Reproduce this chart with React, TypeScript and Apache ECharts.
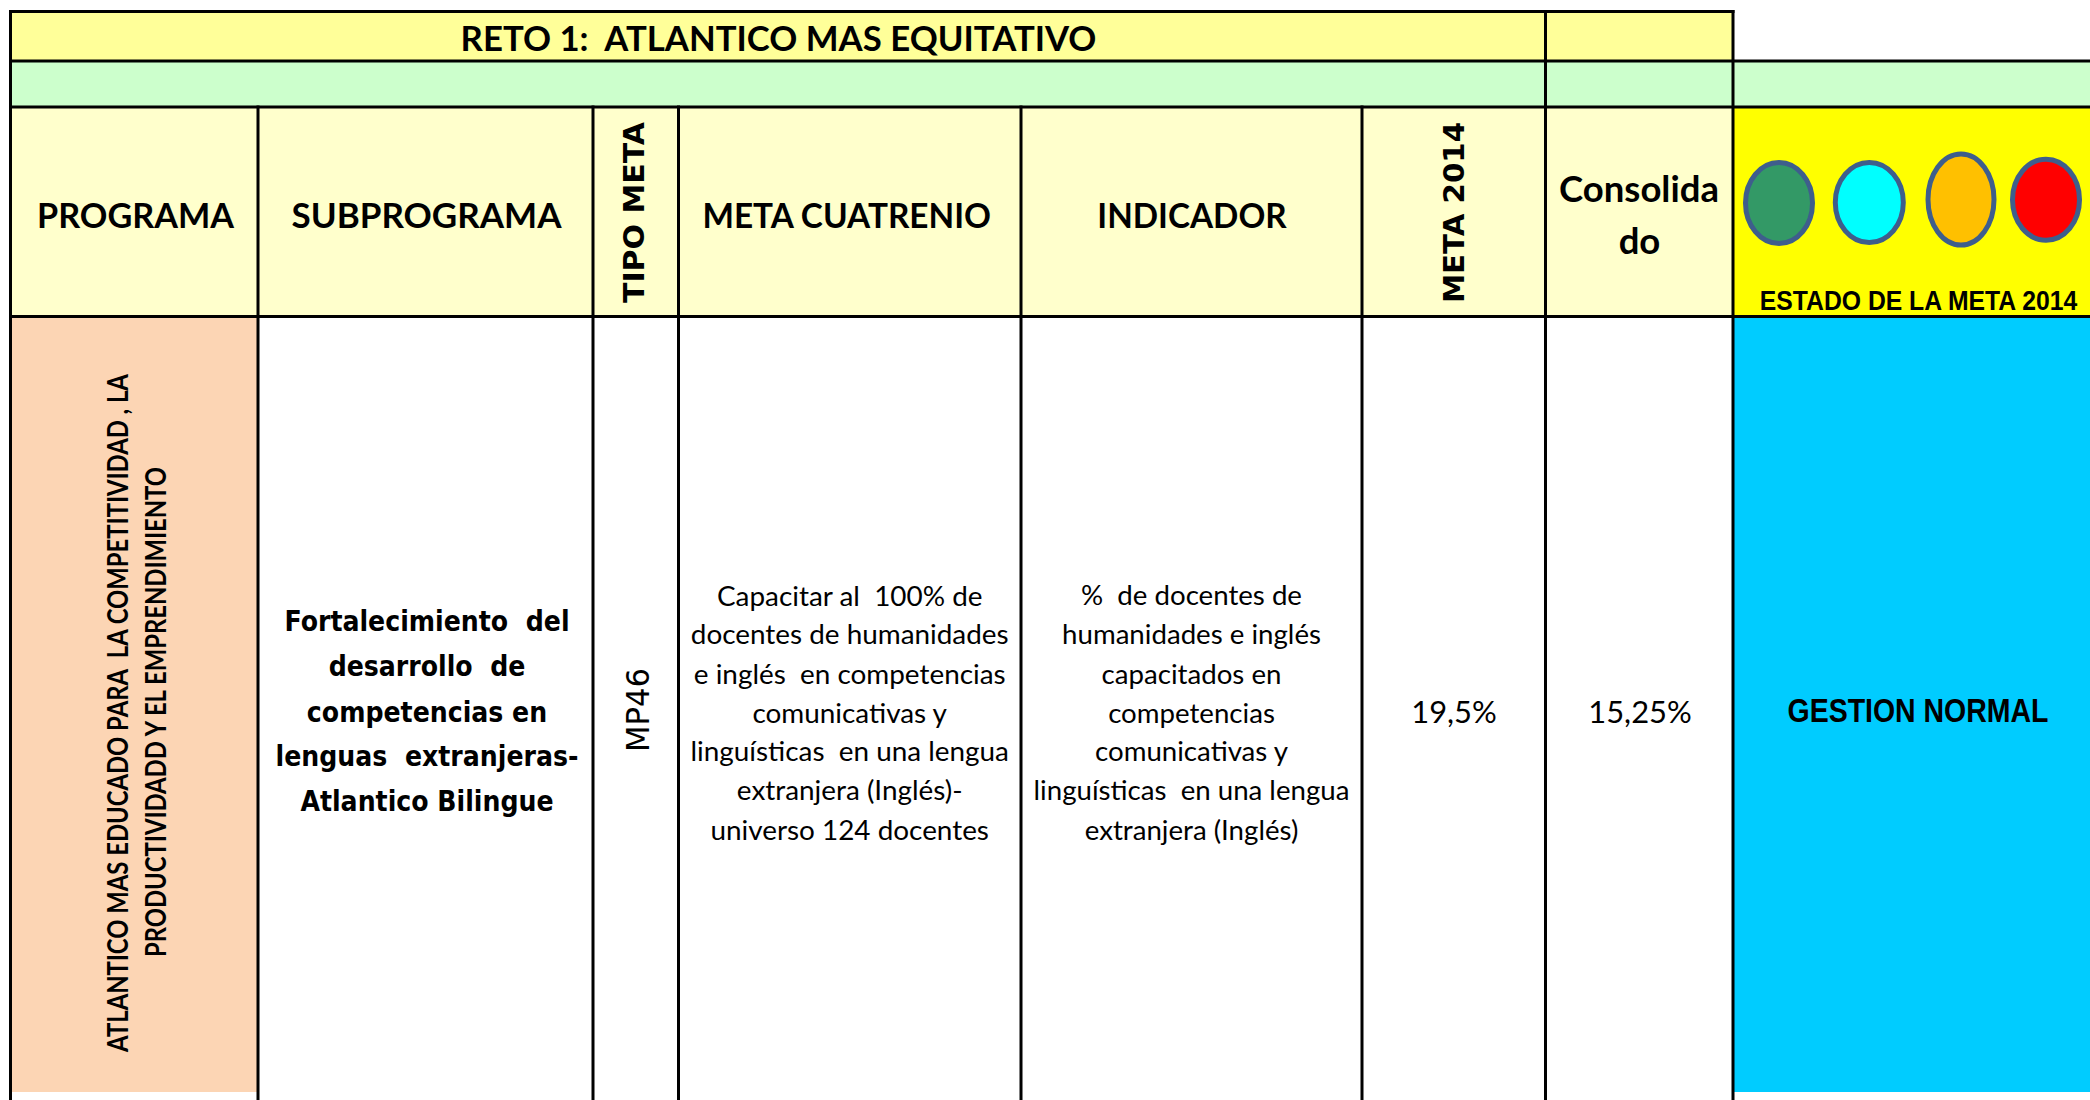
import React, { useEffect, useRef } from "react";
import * as echarts from "echarts";

// ---------------- data ----------------
const title = "RETO 1:  ATLANTICO MAS EQUITATIVO";
const headerPrograma = "PROGRAMA";
const headerSubprograma = "SUBPROGRAMA";
const headerTipoMeta = "TIPO META";
const headerMetaCuatrenio = "META CUATRENIO";
const headerIndicador = "INDICADOR";
const headerMeta2014 = "META 2014";
const headerConsolidado = ["Consolida", "do"];
const estadoLabel = "ESTADO DE LA META 2014";
const estadoColors = ["#339966", "#00FFFF", "#FFC000", "#FF0000"];

const programaLines = [
  "ATLANTICO MAS EDUCADO PARA  LA COMPETITIVIDAD , LA",
  "PRODUCTIVIDADD Y EL EMPRENDIMIENTO",
];
const subprogramaLines = [
  "Fortalecimiento  del",
  "desarrollo  de",
  "competencias en",
  "lenguas  extranjeras-",
  "Atlantico Bilingue",
];
const tipoMeta = "MP46";
const metaCuatrenioLines = [
  "Capacitar al  100% de",
  "docentes de humanidades",
  "e inglés  en competencias",
  "comunicativas y",
  "linguísticas  en una lengua",
  "extranjera (Inglés)-",
  "universo 124 docentes",
];
const indicadorLines = [
  "%  de docentes de",
  "humanidades e inglés",
  "capacitados en",
  "competencias",
  "comunicativas y",
  "linguísticas  en una lengua",
  "extranjera (Inglés)",
];
const meta2014 = "19,5%";
const consolidado = "15,25%";
const estadoMeta = "GESTION NORMAL";

// ---------------- layout ----------------
const W = 2090;
const H = 1100;
const COL = [10.5, 258, 593, 678.5, 1021, 1362, 1545.5, 1733, 2090];
const ROW = [11.5, 61, 107, 316.5, 1092, 1100];

const SANS = "Lato, 'Open Sans', sans-serif";
const VERD = "'DejaVu Sans', Verdana, sans-serif";
const ARIAL = "'Liberation Sans', Arial, sans-serif";

let mctx: CanvasRenderingContext2D | null = null;
function measure(s: string, font: string): number {
  if (!mctx) mctx = document.createElement("canvas").getContext("2d");
  mctx!.font = font;
  return mctx!.measureText(s).width;
}
function fitSize(s: string, weight: string, family: string, target: number): number {
  return (100 * target) / measure(s, `${weight} 100px ${family}`);
}
function fitScale(s: string, weight: string, family: string, size: number, target: number): number {
  return target / measure(s, `${weight} ${size}px ${family}`);
}

function txt(x: number, y: number, s: string, o: any) {
  return {
    type: "text",
    x,
    y,
    rotation: o.rotation || 0,
    scaleX: o.scaleX || 1,
    scaleY: 1,
    silent: true,
    z: 20,
    style: {
      text: s,
      fill: o.fill || "#000000",
      fontSize: o.size,
      fontFamily: o.family,
      fontWeight: o.weight,
      textAlign: "center",
      textVerticalAlign: "middle",
      align: "center",
      verticalAlign: "middle",
    },
  };
}
// text with a given size, squeezed along its run to a target width
function sq(x: number, y: number, s: string, size: number, family: string, weight: string, width: number, rotation = 0) {
  const scaleX = fitScale(s, weight, family, size, width);
  return txt(x, y, s, { size, family, weight, scaleX, rotation });
}
function rect(x1: number, y1: number, x2: number, y2: number, fill: string) {
  return { type: "rect", silent: true, z: 1, shape: { x: x1, y: y1, width: x2 - x1, height: y2 - y1 }, style: { fill } };
}
function ln(x1: number, y1: number, x2: number, y2: number) {
  return {
    type: "line",
    silent: true,
    z: 10,
    shape: { x1, y1, x2, y2 },
    style: { stroke: "#000000", lineWidth: 3, lineCap: "square" },
  };
}

function buildElements() {
  const els: any[] = [];
  const [c0, c1, c2, c3, c4, c5, c6, c7, c8] = COL;
  const [r0, r1, r2, r3, r4, r5] = ROW;

  // fills
  els.push(rect(c0, r0, c7, r1, "#FFFF99"));
  els.push(rect(c0, r1, c8, r2, "#CCFFCC"));
  els.push(rect(c0, r2, c7, r3, "#FFFFCC"));
  els.push(rect(c7, r2, c8, r3, "#FFFF00"));
  els.push(rect(c0, r3, c1, r4, "#FCD5B4"));
  els.push(rect(c7, r3, c8, r4, "#00CCFF"));

  // grid lines
  els.push(ln(c0, r0, c7, r0));
  els.push(ln(c0, r1, c8 + 2, r1));
  els.push(ln(c0, r2, c8 + 2, r2));
  els.push(ln(c0, r3, c8 + 2, r3));
  els.push(ln(c0, r0, c0, r5 + 2));
  els.push(ln(c6, r0, c6, r5 + 2));
  els.push(ln(c7, r0, c7, r5 + 2));
  [c1, c2, c3, c4, c5].forEach((c) => els.push(ln(c, r2, c, r5 + 2)));

  // title
  els.push(sq(778.5, 37, title, 35, SANS, "bold", 637));

  // headers
  const hs = 35;
  els.push(sq(135.5, 214, headerPrograma, hs, SANS, "bold", 197));
  els.push(sq(426.5, 214, headerSubprograma, hs, SANS, "bold", 270));
  els.push(sq(846.7, 214, headerMetaCuatrenio, hs, SANS, "bold", 290));
  els.push(sq(1192, 214, headerIndicador, hs, SANS, "bold", 189.5));
  const cs = 36;
  const cScale = fitScale(headerConsolidado[0], "bold", SANS, cs, 160);
  els.push(txt(1639, 188, headerConsolidado[0], { size: cs, family: SANS, weight: "bold", scaleX: cScale }));
  els.push(txt(1639.5, 240, headerConsolidado[1], { size: cs, family: SANS, weight: "bold", scaleX: cScale }));

  els.push(sq(634.5, 212.5, headerTipoMeta, 29, VERD, "bold", 181, Math.PI / 2));
  els.push(sq(1454.5, 212.5, headerMeta2014, 29, VERD, "bold", 181, Math.PI / 2));

  // traffic light
  const circ = [
    { cx: 1779, cy: 203, rx: 33.5, ry: 40.5 },
    { cx: 1869.3, cy: 202.5, rx: 34, ry: 40 },
    { cx: 1961, cy: 199.5, rx: 33, ry: 45.5 },
    { cx: 2046, cy: 199.7, rx: 33.5, ry: 40.5 },
  ];
  estadoColors.forEach((col, i) => {
    els.push({
      type: "ellipse",
      silent: true,
      z: 15,
      shape: circ[i],
      style: { fill: col, stroke: "#3E5E8C", lineWidth: 5 },
    });
  });
  els.push(sq(1918.5, 300, estadoLabel, 28, ARIAL, "bold", 319));

  // data row
  const pSize = 28;
  const pScale = fitScale(programaLines[0], "bold", SANS, pSize, 680);
  els.push(txt(117.5, 713, programaLines[0], { size: pSize, family: SANS, weight: "bold", rotation: Math.PI / 2, scaleX: pScale }));
  els.push(txt(155.5, 712, programaLines[1], { size: pSize, family: SANS, weight: "bold", rotation: Math.PI / 2, scaleX: pScale }));

  const sSize = 29;
  const sScale = fitScale(subprogramaLines[3], "bold", VERD, sSize, 303);
  const sY = [621, 666, 712, 756, 801];
  subprogramaLines.forEach((l, i) =>
    els.push(txt(427, sY[i], l, { size: sSize, family: VERD, weight: "bold", scaleX: sScale }))
  );

  els.push(sq(637.5, 710, tipoMeta, 32, VERD, "normal", 84, Math.PI / 2));

  const bY = [594.5, 633, 673, 712, 750, 789, 829];
  const mSize = fitSize(metaCuatrenioLines[1], "normal", SANS, 318);
  metaCuatrenioLines.forEach((l, i) => els.push(txt(849.7, bY[i], l, { size: mSize, family: SANS, weight: "normal" })));
  const iSize = fitSize(indicadorLines[5], "normal", SANS, 316);
  indicadorLines.forEach((l, i) => els.push(txt(1191.5, bY[i], l, { size: iSize, family: SANS, weight: "normal" })));

  const nSize = fitSize(consolidado, "normal", SANS, 103.5);
  els.push(txt(1454, 711, meta2014, { size: nSize, family: SANS, weight: "normal" }));
  els.push(txt(1640, 711, consolidado, { size: nSize, family: SANS, weight: "normal" }));

  els.push(sq(1918, 711, estadoMeta, 33, ARIAL, "bold", 261));

  return els;
}

export default function App() {
  const ref = useRef<HTMLDivElement>(null);
  useEffect(() => {
    document.body.style.margin = "0";
    document.body.style.overflow = "hidden";
    if (!ref.current) return;
    const chart = echarts.init(ref.current, null, { renderer: "svg" });
    chart.setOption({
      animation: false,
      backgroundColor: "#FFFFFF",
      graphic: { elements: buildElements() },
    });
    return () => chart.dispose();
  }, []);
  return <div ref={ref} style={{ width: W, height: H }} />;
}
